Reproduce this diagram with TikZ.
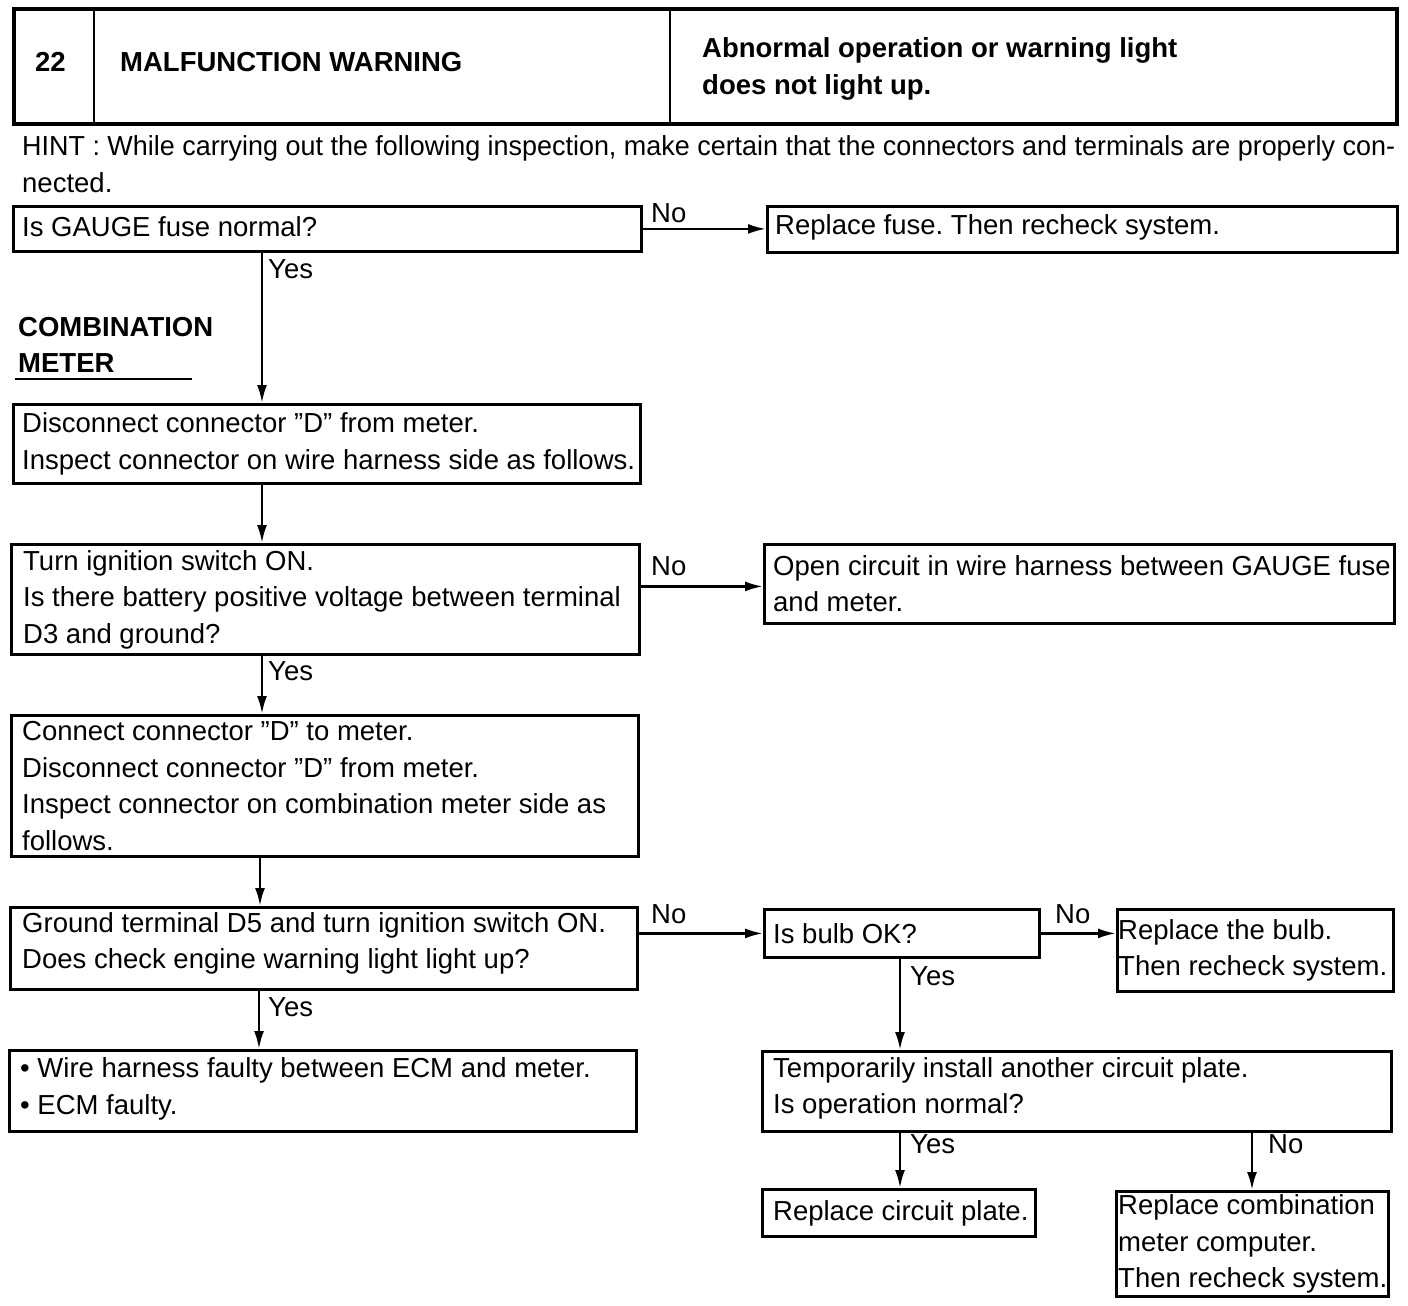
\documentclass[tikz,border=0pt]{standalone}
\usepackage{fontspec}
\usepackage{graphicx}
\setmainfont{Liberation Sans}
\usetikzlibrary{arrows.meta}
\newcommand\bodyfs{\fontsize{27.5}{36.5}\selectfont\frenchspacing}
\newcommand\headfs{\fontsize{27.5}{36.5}\selectfont\bfseries}
\begin{document}
\begin{tikzpicture}[x=1pt,y=-1pt,
  box/.style={draw, line width=2.8pt, anchor=north west, inner sep=0pt},
  txt/.style={anchor=west, align=left, inner sep=0pt, font=\bodyfs},
  lbl/.style={anchor=base west, inner sep=0pt, font=\bodyfs},
  hd/.style={anchor=base west, inner sep=0pt, font=\headfs},
  arr/.style={line width=2.5pt, -{Latex[length=18pt,width=10pt]}}]
\useasboundingbox (0,0) rectangle (1408,1306);
\fill[white] (0,0) rectangle (1408,1306);

% header
\draw[line width=3.8pt] (14,9) rectangle (1397,124);
\draw[line width=2.8pt] (94,9) -- (94,124) (670,9) -- (670,124);
\node[hd] (num) at (35,72) {22};
\node[hd] (title) at (120,72) {MALFUNCTION WARNING};
\node[hd] (sym1) at (702,58) {Abnormal operation or warning light};
\node[hd] (sym2) at (702,95) {does not light up.};

% hint
\node[lbl] (hint1) at (22,155) {\resizebox{1373pt}{\height}{HINT : While carrying out the following inspection, make certain that the connectors and terminals are properly con-}};
\node[lbl] (hint2) at (22,192) {nected.};

% section title
\node[hd] (comb1) at (18,336) {COMBINATION};
\node[hd] (comb2) at (18,372) {METER};
\draw[line width=2.8pt] (15,379) -- (192,379);

% boxes
\node[box, minimum width=628pt, minimum height=45pt] (b1) at (12,205) {};
\node[txt] (b1t) at ([xshift=10pt,yshift=2pt]b1.west) {Is GAUGE fuse normal?};

\node[box, minimum width=630pt, minimum height=46pt] (r1) at (766,205) {};
\node[txt] (r1t) at ([xshift=9pt,yshift=2pt]r1.west) {Replace fuse. Then recheck system.};

\node[box, minimum width=627pt, minimum height=79pt] (b2) at (12,403) {};
\node[txt] (b2t) at ([xshift=10pt]b2.west) {Disconnect connector ”D” from meter.\\Inspect connector on wire harness side as follows.};

\node[box, minimum width=628pt, minimum height=110pt] (b3) at (10,543) {};
\node[txt] (b3t) at ([xshift=13pt]b3.west) {Turn ignition switch ON.\\Is there battery positive voltage between terminal\\D3 and ground?};

\node[box, minimum width=630pt, minimum height=79pt] (r3) at (763,543) {};
\node[txt] (r3t) at ([xshift=10pt]r3.west) {Open circuit in wire harness between GAUGE fuse\\and meter.};

\node[box, minimum width=627pt, minimum height=141pt] (b4) at (10,714) {};
\node[txt] (b4t) at ([xshift=12pt]b4.west) {Connect connector ”D” to meter.\\Disconnect connector ”D” from meter.\\Inspect connector on combination meter side as\\follows.};

\node[box, minimum width=627pt, minimum height=82pt] (b5) at (9,906) {};
\node[txt] (b5t) at ([xshift=13pt,yshift=5pt]b5.west) {Ground terminal D5 and turn ignition switch ON.\\Does check engine warning light light up?};

\node[box, minimum width=275pt, minimum height=48pt] (bulb) at (763,908) {};
\node[txt] (bulbt) at ([xshift=10pt]bulb.west) {Is bulb OK?};

\node[box, minimum width=276pt, minimum height=82pt] (rb) at (1116,908) {};
\node[txt] (rbt) at ([xshift=2pt]rb.west) {Replace the bulb.\\Then recheck system.};

\node[box, minimum width=627pt, minimum height=81pt] (b6) at (8,1049) {};
\node[txt] (b6t) at ([xshift=12pt,yshift=2pt]b6.west) {• Wire harness faulty between ECM and meter.\\• ECM faulty.};

\node[box, minimum width=629pt, minimum height=80pt] (tp) at (761,1050) {};
\node[txt] (tpt) at ([xshift=12pt,yshift=3pt]tp.west) {Temporarily install another circuit plate.\\Is operation normal?};

\node[box, minimum width=273pt, minimum height=47pt] (rcp) at (761,1188) {};
\node[txt] (rcpt) at ([xshift=12pt]rcp.west) {Replace circuit plate.};

\node[box, minimum width=272pt, minimum height=105pt] (rcm) at (1115,1190) {};
\node[txt] (rcmt) at ([xshift=3pt]rcm.west) {Replace combination\\meter computer.\\Then recheck system.};

% x positions of vertical connectors
\coordinate (c262) at (262,0);
\coordinate (c260) at (260,0);
\coordinate (c259) at (259,0);
\coordinate (c900) at (900,0);
\coordinate (c1252) at (1252,0);

% connectors
\draw[arr] (b1.east) -- (b1.east -| r1.west);
\draw[arr] (b1.south -| c262) -- (b2.north -| c262);
\draw[arr] (b2.south -| c262) -- (b3.north -| c262);
\draw[arr] ([yshift=13pt]b3.east) -- ([yshift=13pt]b3.east -| r3.west);
\draw[arr] (b3.south -| c262) -- (b4.north -| c262);
\draw[arr] (b4.south -| c260) -- (b5.north -| c260);
\draw[arr] (b5.east |- bulb.west) -- (bulb.west);
\draw[arr] (bulb.east) -- (bulb.east -| rb.west);
\draw[arr] (b5.south -| c259) -- (b6.north -| c259);
\draw[arr] (bulb.south -| c900) -- (tp.north -| c900);
\draw[arr] (tp.south -| c900) -- (rcp.north -| c900);
\draw[arr] (tp.south -| c1252) -- (rcm.north -| c1252);

% labels
\node[lbl] (no1) at (651,222) {No};
\node[lbl] (no2) at (651,575) {No};
\node[lbl] (no3) at (651,923) {No};
\node[lbl] (no4) at (1055,923) {No};
\node[lbl] (no5) at (1268,1153) {No};
\node[lbl] (yes1) at (268,278) {Yes};
\node[lbl] (yes2) at (268,680) {Yes};
\node[lbl] (yes3) at (268,1016) {Yes};
\node[lbl] (yes4) at (910,985) {Yes};
\node[lbl] (yes5) at (910,1153) {Yes};
\end{tikzpicture}
\end{document}
